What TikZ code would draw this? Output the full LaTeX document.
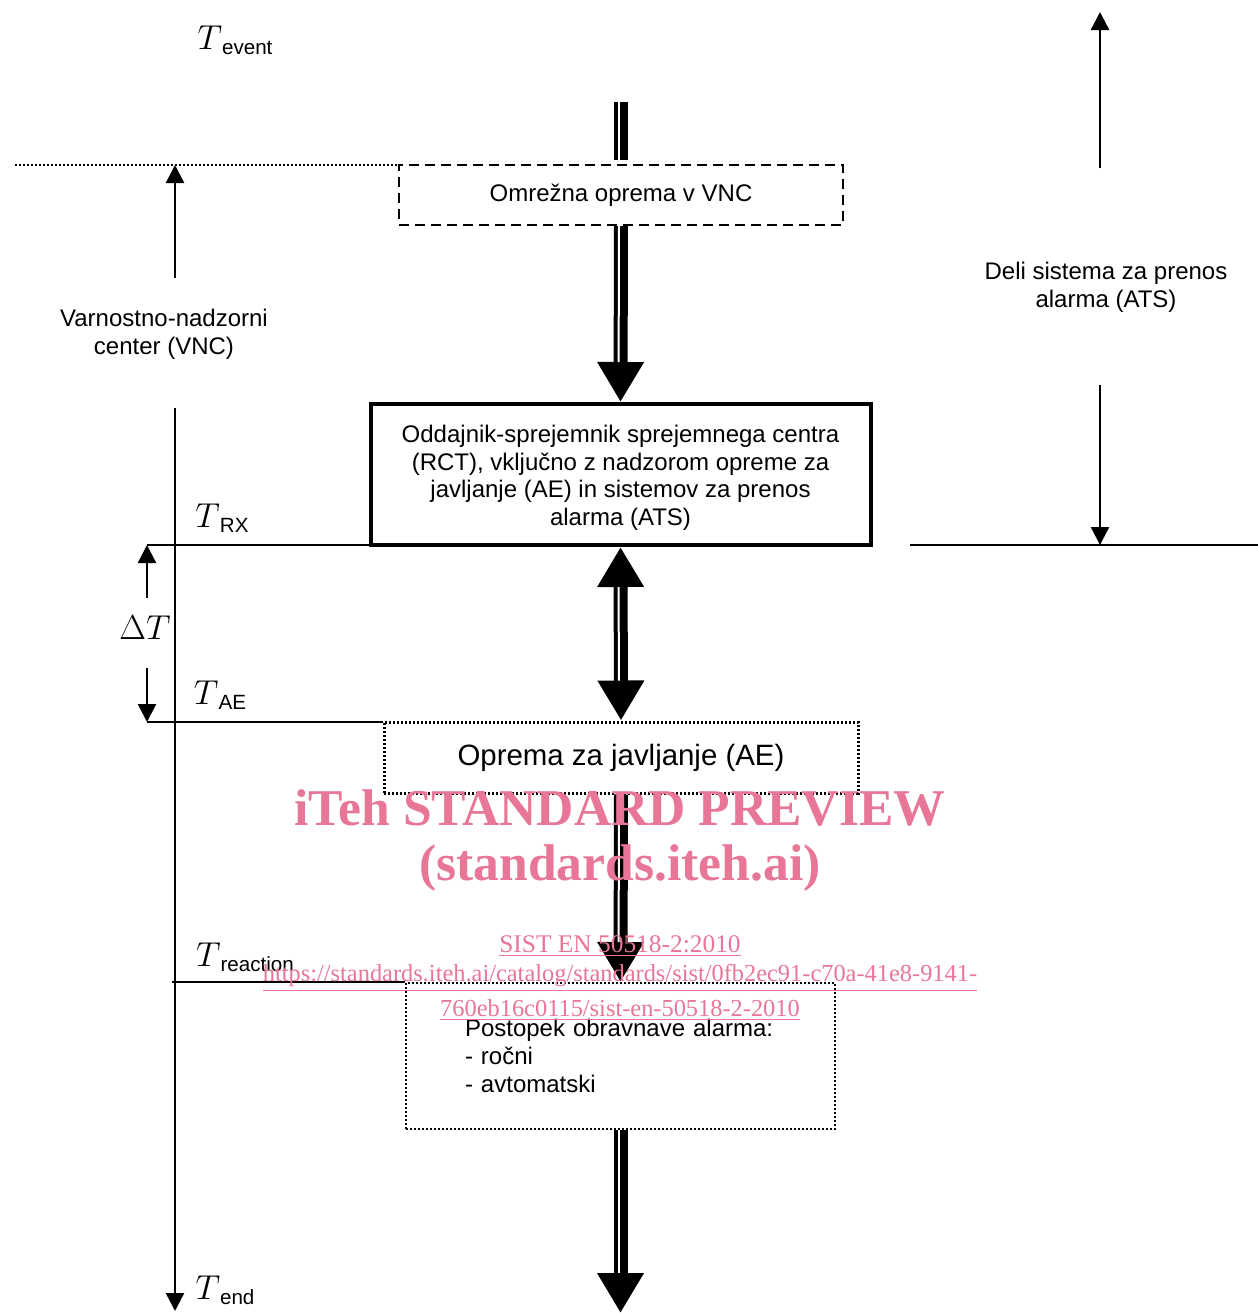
\documentclass[tikz,border=0pt]{standalone}
\usepackage{fontspec}
\setmainfont{Liberation Sans}
\newfontfamily\wmfont{Liberation Serif}
\usetikzlibrary{arrows.meta,positioning}
\definecolor{wmpink}{RGB}{232,118,150}
\newcommand{\tmark}[1]{{\fontsize{16}{16}\selectfont$T$}\raisebox{-0.45ex}{\fontsize{10.3}{12}\selectfont #1}}

\begin{document}
\begin{tikzpicture}[x=0.5pt,y=-0.5pt]
	\tikzset{BoxStyle/.style = {
			shape=rectangle,
			align=center,
			font=\fontsize{12}{13.85}\selectfont
	}}
	\tikzset{DashBoxStyle/.style = {BoxStyle, draw=black, line width=1.2pt, dash pattern=on 5pt off 3pt}}
	\tikzset{RctBoxStyle/.style = {BoxStyle, draw=black, line width=2pt}}
	\tikzset{DotBoxStyle/.style = {BoxStyle, draw=black, line width=1.5pt, dash pattern=on 1.2pt off 0.8pt}}
	\tikzset{ThinDotBoxStyle/.style = {BoxStyle, draw=black, line width=1pt, dash pattern=on 1pt off 1pt}}
	\tikzset{BigLineStyle/.style = {
			line width=7pt,
			postaction={draw=white, line width=1pt, -, transform canvas={xshift=-1pt}}
	}}
	\tikzset{BigArrowStyle/.style = {
			line width=7pt,
			-{Triangle[width=22pt,length=20pt]},
			postaction={draw=white, line width=1pt, -, shorten >=20pt, transform canvas={xshift=-1pt}}
	}}
	\tikzset{BigBothStyle/.style = {
			line width=7pt,
			{Triangle[width=22pt,length=20pt]}-{Triangle[width=22pt,length=20pt]},
			postaction={draw=white, line width=1pt, -, shorten >=20pt, shorten <=20pt, transform canvas={xshift=-1pt}}
	}}
	\tikzset{ThinArrowStyle/.style = {line width=1.2pt, -{Triangle[width=9pt,length=9pt]}}}
	\tikzset{TimeLineStyle/.style = {line width=1.3pt}}
	\tikzset{WmStyle/.style = {text=wmpink, inner sep=0pt}}

	\useasboundingbox (0,0) rectangle (1258,1313);

	% boxes
	\node[DashBoxStyle, minimum width=222pt, minimum height=30pt] (vnceq) at (621,195) {Omrežna oprema v VNC};
	\node[RctBoxStyle, minimum width=250pt, minimum height=70.5pt] (rct) at (620.5,474.5)
		{\rule{0pt}{12pt}Oddajnik-sprejemnik sprejemnega centra\\(RCT), vključno z nadzorom opreme za\\javljanje (AE) in sistemov za prenos\\alarma (ATS)};
	\node[DotBoxStyle, minimum width=237pt, minimum height=35.5pt, font=\fontsize{14.7}{17}\selectfont] (ae) at (621,757.5) {Oprema za javljanje (AE)};
	\node[ThinDotBoxStyle, minimum width=214.5pt, minimum height=73pt, text width=155.5pt, inner xsep=29.5pt, align=left] (proc) at (620.5,1056)
		{Postopek obravnave alarma:\\- ročni\\- avtomatski};

	% main flow
	\coordinate (flowtop) at (621,102);
	\coordinate (flowend) at (620.5,1313);
	\draw[BigLineStyle, shorten >=2pt] (flowtop) -- (vnceq.north);
	\draw[BigArrowStyle] (vnceq.south) -- (rct.north);
	\draw[BigBothStyle] (rct.south) -- (ae.north);
	\draw[BigArrowStyle] (ae.south) -- (proc.north);
	\draw[BigArrowStyle] (proc.south) -- (flowend);

	% time marks
	\coordinate (vncL) at (15,165);
	\coordinate (rxL) at (147,545);
	\coordinate (rxR) at (910,545);
	\coordinate (rxE) at (1258,545);
	\coordinate (aeL) at (147,722);
	\coordinate (reL) at (172,982);
	\draw[line width=1pt, dash pattern=on 1pt off 1pt] (vncL) -- (vncL -| vnceq.west);
	\draw[TimeLineStyle] (rxL) -- (rxL -| rct.west);
	\draw[TimeLineStyle] (rxR) -- (rxE);
	\draw[TimeLineStyle] (aeL) -- (aeL -| ae.west);
	\draw[TimeLineStyle] (reL) -- (reL -| proc.west);

	\node (tevent) at (235,40) {\tmark{event}};
	\node (trx) at (222,518) {\tmark{RX}};
	\node (tae) at (220,695) {\tmark{AE}};
	\node (treact) at (245,957) {\tmark{reaction}};
	\node (tend) at (225,1290) {\tmark{end}};
	\node (dt) at (145,628) {\fontsize{16}{16}\selectfont$\Delta T$};

	% left axis (VNC)
	\node[BoxStyle] (vnc) at (164,334) {Varnostno-nadzorni\\center (VNC)};
	\coordinate (axA) at (175,278);
	\coordinate (axB) at (175,165);
	\coordinate (axC) at (175,408);
	\coordinate (axD) at (175,1311);
	\draw[ThinArrowStyle] (axA) -- (axB);
	\draw[ThinArrowStyle] (axC) -- (axD);

	% delta T
	\coordinate (dtA) at (147,598);
	\coordinate (dtB) at (147,668);
	\draw[ThinArrowStyle] (dtA) -- (rxL);
	\draw[ThinArrowStyle] (dtB) -- (aeL);

	% right axis (ATS)
	\node[BoxStyle] (ats) at (1106,287) {Deli sistema za prenos\\alarma (ATS)};
	\coordinate (atsA) at (1100,168);
	\coordinate (atsB) at (1100,12);
	\coordinate (atsC) at (1100,385);
	\coordinate (atsD) at (1100,545);
	\draw[ThinArrowStyle] (atsA) -- (atsB);
	\draw[ThinArrowStyle] (atsC) -- (atsD);

	% watermark
	\node[WmStyle, font={\wmfont\bfseries\fontsize{25.8}{28}\selectfont}] (wm1) at (620,808) {iTeh STANDARD PREVIEW};
	\node[WmStyle, font={\wmfont\bfseries\fontsize{25.8}{28}\selectfont}] (wm2) at (620,868) {(standards.iteh.ai)};
	\node[WmStyle, font={\wmfont\fontsize{12.7}{14}\selectfont}] (wm3) at (620,946) {\underline{SIST EN 50518-2:2010}};
	\node[WmStyle, font={\wmfont\fontsize{12.2}{14}\selectfont}] (wm4) at (620,978) {\underline{https://standards.iteh.ai/catalog/standards/sist/0fb2ec91-c70a-41e8-9141-}};
	\node[WmStyle, font={\wmfont\fontsize{12.2}{14}\selectfont}] (wm5) at (620,1010) {\underline{760eb16c0115/sist-en-50518-2-2010}};
\end{tikzpicture}
\end{document}
